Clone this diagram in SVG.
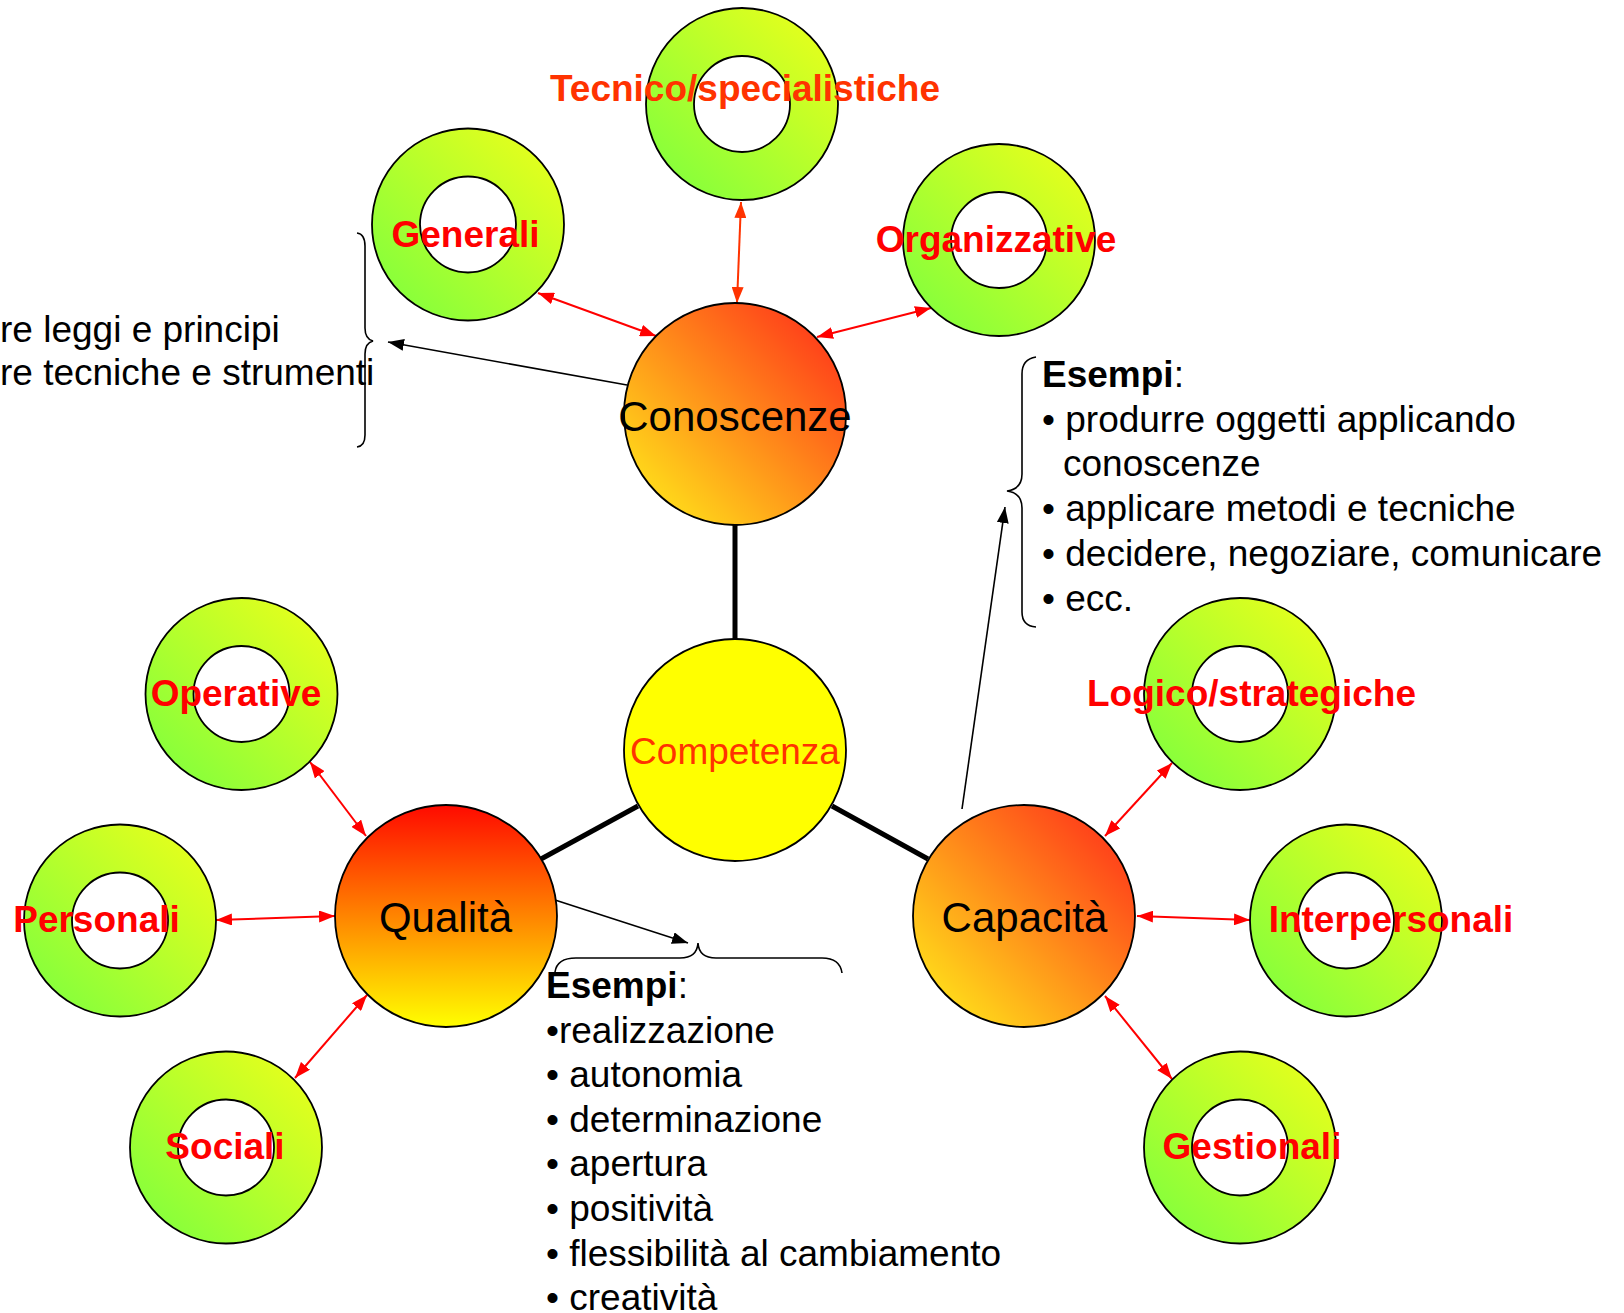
<svg xmlns="http://www.w3.org/2000/svg" width="1624" height="1313" viewBox="0 0 1624 1313">
<defs>
<linearGradient id="gDonut" x1="0" y1="1" x2="1" y2="0">
<stop offset="0" stop-color="#78FF40"/>
<stop offset="1" stop-color="#F2FF18"/>
</linearGradient>
<linearGradient id="gOrange" x1="0" y1="1" x2="1" y2="0">
<stop offset="0.1" stop-color="#FFE01A"/>
<stop offset="0.9" stop-color="#FF3A1A"/>
</linearGradient>
<linearGradient id="gQual" x1="0" y1="0" x2="0" y2="1">
<stop offset="0" stop-color="#FF0A00"/>
<stop offset="1" stop-color="#FFFF00"/>
</linearGradient>
<marker id="ar" viewBox="0 0 16 12" refX="16" refY="6" markerWidth="16" markerHeight="12" markerUnits="userSpaceOnUse" orient="auto-start-reverse">
<path d="M0,0 L16,6 L0,12 z" fill="#FF0000"/>
</marker>
<marker id="ao" viewBox="0 0 16 12" refX="16" refY="6" markerWidth="16" markerHeight="12" markerUnits="userSpaceOnUse" orient="auto-start-reverse">
<path d="M0,0 L16,6 L0,12 z" fill="#FF3300"/>
</marker>
<marker id="ab" viewBox="0 0 16 12" refX="16" refY="6" markerWidth="16" markerHeight="12" markerUnits="userSpaceOnUse" orient="auto">
<path d="M0,0 L16,6 L0,12 z" fill="#000"/>
</marker>
</defs>
<style>
.donut{fill:url(#gDonut);fill-rule:evenodd;stroke:#000;stroke-width:1.8}
.big{stroke:#000;stroke-width:1.8}
.lbl{font-family:"Liberation Sans",Arial,sans-serif;font-weight:bold;font-size:37px;fill:#FF0000;text-anchor:middle}
.blbl{font-family:"Liberation Sans",Arial,sans-serif;font-size:42px;fill:#000;text-anchor:middle}
.txt{font-family:"Liberation Sans",Arial,sans-serif;font-size:37px;fill:#000}
.red{stroke:#FF0000;stroke-width:2;fill:none;marker-start:url(#ar);marker-end:url(#ar)}
.thick{stroke:#000;stroke-width:5;fill:none}
.thin{stroke:#000;stroke-width:1.6;fill:none;marker-end:url(#ab)}
.brace{stroke:#000;stroke-width:1.6;fill:none}
</style>

<g id="connectors">
<line class="thick" x1="735" y1="525" x2="735" y2="640"/>
<line class="thick" x1="638" y1="806" x2="541" y2="859"/>
<line class="thick" x1="832" y1="806" x2="928" y2="859"/>
<line class="red" x1="538" y1="293" x2="656" y2="336"/>
<line class="red" style="stroke:#FF3300;marker-start:url(#ao);marker-end:url(#ao)" x1="741" y1="202" x2="737" y2="303"/>
<line class="red" x1="931" y1="308" x2="817" y2="337"/>
<line class="red" x1="310" y1="762" x2="366" y2="836"/>
<line class="red" x1="216" y1="920" x2="335" y2="916"/>
<line class="red" x1="295" y1="1078" x2="367" y2="995"/>
<line class="red" x1="1172" y1="763" x2="1105" y2="836"/>
<line class="red" x1="1137" y1="916" x2="1250" y2="920"/>
<line class="red" x1="1105" y1="996" x2="1172" y2="1079"/>
<line class="thin" x1="627" y1="385" x2="388" y2="342"/>
<line class="thin" x1="962" y1="809" x2="1005" y2="507"/>
<line class="thin" x1="555" y1="900" x2="688" y2="943"/>
</g>

<g id="braces">
<path class="brace" d="M357,233 Q365,234 365,246 L365,328 Q365,339 373,341 Q365,343 365,354 L365,435 Q365,446 357,447"/>
<path class="brace" d="M1036,357 Q1022,359 1022,374 L1022,474 Q1022,489 1007,491 Q1022,493 1022,508 L1022,612 Q1022,626 1036,627"/>
<path class="brace" d="M555,972 Q557,958 576,958 L680,958 Q697,958 698,943 Q699,958 716,958 L822,958 Q840,958 842,973"/>
</g>

<g id="n-tecnico">
<path class="donut" d="M646,104 a96,96 0 1,0 192,0 a96,96 0 1,0 -192,0 z M694,104 a48,48 0 1,0 96,0 a48,48 0 1,0 -96,0 z"/>
<text class="lbl" style="fill:#FF3300" x="745" y="100.5">Tecnico/specialistiche</text>
</g>
<g id="n-generali">
<path class="donut" d="M372,224.5 a96,96 0 1,0 192,0 a96,96 0 1,0 -192,0 z M420,224.5 a48,48 0 1,0 96,0 a48,48 0 1,0 -96,0 z"/>
<text class="lbl" x="465.5" y="246.5">Generali</text>
</g>
<g id="n-organizzative">
<path class="donut" d="M903,240 a96,96 0 1,0 192,0 a96,96 0 1,0 -192,0 z M951,240 a48,48 0 1,0 96,0 a48,48 0 1,0 -96,0 z"/>
<text class="lbl" x="996" y="251.5">Organizzative</text>
</g>
<g id="n-operative">
<path class="donut" d="M145.5,694 a96,96 0 1,0 192,0 a96,96 0 1,0 -192,0 z M193.5,694 a48,48 0 1,0 96,0 a48,48 0 1,0 -96,0 z"/>
<text class="lbl" x="236" y="706">Operative</text>
</g>
<g id="n-personali">
<path class="donut" d="M24,920.5 a96,96 0 1,0 192,0 a96,96 0 1,0 -192,0 z M72,920.5 a48,48 0 1,0 96,0 a48,48 0 1,0 -96,0 z"/>
<text class="lbl" x="96.5" y="932">Personali</text>
</g>
<g id="n-sociali">
<path class="donut" d="M130,1147.5 a96,96 0 1,0 192,0 a96,96 0 1,0 -192,0 z M178,1147.5 a48,48 0 1,0 96,0 a48,48 0 1,0 -96,0 z"/>
<text class="lbl" x="225" y="1159">Sociali</text>
</g>
<g id="n-logico">
<path class="donut" d="M1144,694 a96,96 0 1,0 192,0 a96,96 0 1,0 -192,0 z M1192,694 a48,48 0 1,0 96,0 a48,48 0 1,0 -96,0 z"/>
<text class="lbl" x="1251.5" y="706">Logico/strategiche</text>
</g>
<g id="n-interpersonali">
<path class="donut" d="M1250,920.5 a96,96 0 1,0 192,0 a96,96 0 1,0 -192,0 z M1298,920.5 a48,48 0 1,0 96,0 a48,48 0 1,0 -96,0 z"/>
<text class="lbl" x="1391" y="932">Interpersonali</text>
</g>
<g id="n-gestionali">
<path class="donut" d="M1144,1147.5 a96,96 0 1,0 192,0 a96,96 0 1,0 -192,0 z M1192,1147.5 a48,48 0 1,0 96,0 a48,48 0 1,0 -96,0 z"/>
<text class="lbl" x="1252" y="1159">Gestionali</text>
</g>

<g id="n-conoscenze">
<circle class="big" cx="735" cy="414" r="111" fill="url(#gOrange)"/>
<text class="blbl" x="735" y="431">Conoscenze</text>
</g>
<g id="n-competenza">
<circle class="big" cx="735" cy="750" r="111" fill="#FFFF00"/>
<text class="blbl" style="font-size:37px;fill:#FF3300" x="735" y="764">Competenza</text>
</g>
<g id="n-qualita">
<circle class="big" cx="446" cy="916" r="111" fill="url(#gQual)"/>
<text class="blbl" x="445.5" y="932">Qualità</text>
</g>
<g id="n-capacita">
<circle class="big" cx="1024" cy="916" r="111" fill="url(#gOrange)"/>
<text class="blbl" x="1024.5" y="932">Capacità</text>
</g>

<g id="t-conoscenze">
<text class="txt" x="0" y="342">re leggi e principi</text>
<text class="txt" x="0" y="385">re tecniche e strumenti</text>
</g>

<g id="t-capacita">
<text class="txt" x="1042" y="387"><tspan font-weight="bold">Esempi</tspan>:</text>
<text class="txt" x="1042" y="431.7">• produrre oggetti applicando</text>
<text class="txt" x="1063" y="476.4">conoscenze</text>
<text class="txt" x="1042" y="521.1">• applicare metodi e tecniche</text>
<text class="txt" x="1042" y="565.8">• decidere, negoziare, comunicare</text>
<text class="txt" x="1042" y="610.5">• ecc.</text>
</g>

<g id="t-qualita">
<text class="txt" x="546" y="998"><tspan font-weight="bold">Esempi</tspan>:</text>
<text class="txt" x="546" y="1042.6">•realizzazione</text>
<text class="txt" x="546" y="1087.2">• autonomia</text>
<text class="txt" x="546" y="1131.8">• determinazione</text>
<text class="txt" x="546" y="1176.4">• apertura</text>
<text class="txt" x="546" y="1221">• positività</text>
<text class="txt" x="546" y="1265.6">• flessibilità al cambiamento</text>
<text class="txt" x="546" y="1310.2">• creatività</text>
</g>
</svg>
